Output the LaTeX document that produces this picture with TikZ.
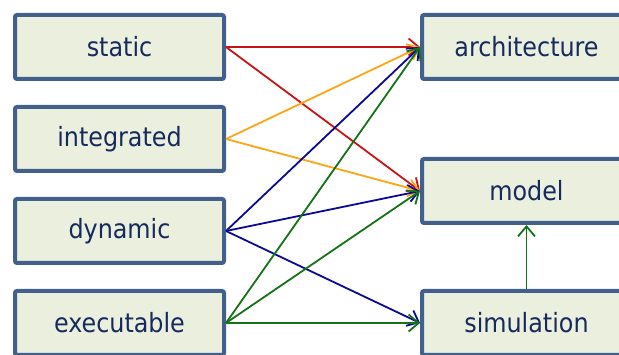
\documentclass[tikz,border=0pt]{standalone}
\usepackage{fontspec}
\setmainfont{DejaVu Sans Condensed}
\usetikzlibrary{arrows.meta}
\definecolor{boxborder}{RGB}{65,97,140}
\definecolor{boxfill}{RGB}{235,239,222}
\definecolor{txt}{RGB}{22,42,92}
\definecolor{cred}{RGB}{200,20,20}
\definecolor{corange}{RGB}{255,165,20}
\definecolor{cblue}{RGB}{10,10,150}
\definecolor{cgreen}{RGB}{20,115,20}
\tikzset{
  box/.style={draw=boxborder, fill=boxfill, line width=4pt, rounded corners=2pt,
    minimum width=209pt, minimum height=64pt, inner sep=0pt, text=txt,
    font=\fontsize{26.5}{30}\selectfont},
  conn/.style={line width=1.8pt, -{Straight Barb[length=10pt,width=17pt,line width=1.8pt]}}
}
\begin{document}
\begin{tikzpicture}[x=1pt,y=-1pt]
\useasboundingbox (0,0) rectangle (619,355);
\node[box] (static) at (119.5,47) {static};
\node[box] (integrated) at (119.5,139) {integrated};
\node[box] (dynamic) at (119.5,231) {dynamic};
\node[box] (executable) at (119.5,323) {executable};
\node[box] (arch) at (526.5,47) {architecture};
\node[box] (model) at (526.5,191) {model};
\node[box] (sim) at (526.5,323) {simulation};
\draw[conn,cred] (static.east) -- (arch.west);
\draw[conn,cred] (static.east) -- (model.west);
\draw[conn,corange] (integrated.east) -- (arch.west);
\draw[conn,corange] (integrated.east) -- (model.west);
\draw[conn,cblue] (dynamic.east) -- (arch.west);
\draw[conn,cblue] (dynamic.east) -- (model.west);
\draw[conn,cblue] (dynamic.east) -- (sim.west);
\draw[conn,cgreen] (executable.east) -- (arch.west);
\draw[conn,cgreen] (executable.east) -- (model.west);
\draw[conn,cgreen] (executable.east) -- (sim.west);
\draw[conn,cgreen] (sim.north) -- (model.south);
\end{tikzpicture}
\end{document}
